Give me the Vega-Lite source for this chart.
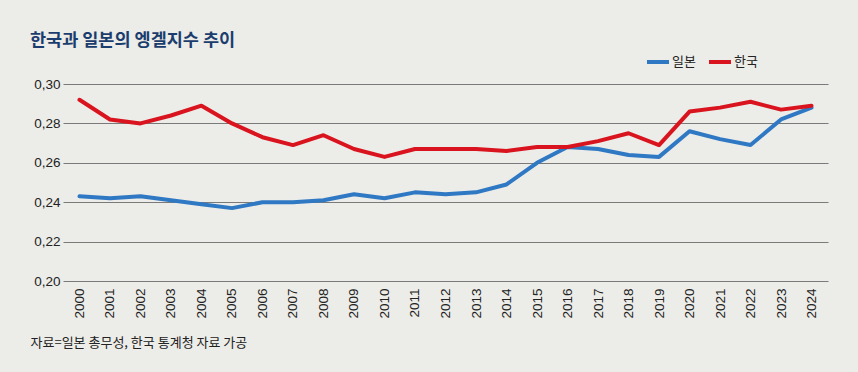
{
  "$schema": "https://vega.github.io/schema/vega-lite/v6.json",
  "autosize": "none",
  "width": 765,
  "height": 197,
  "padding": {"left": 63, "top": 84, "right": 30, "bottom": 91},
  "background": "#ECECE8",
  "title": {
    "text": "한국과 일본의 엥겔지수 추이",
    "anchor": "start",
    "frame": "group",
    "dx": -33,
    "offset": 0,
    "font": "Noto Sans CJK KR",
    "fontSize": 17.5,
    "fontWeight": "bold",
    "color": "#1B3D6E"
  },
  "config": {
    "view": {"stroke": null},
    "font": "Liberation Sans"
  },
  "data": {
    "values": [
      {"year": "2000", "country": "일본", "value": 0.243},
      {"year": "2001", "country": "일본", "value": 0.242},
      {"year": "2002", "country": "일본", "value": 0.243},
      {"year": "2003", "country": "일본", "value": 0.241},
      {"year": "2004", "country": "일본", "value": 0.239},
      {"year": "2005", "country": "일본", "value": 0.237},
      {"year": "2006", "country": "일본", "value": 0.240},
      {"year": "2007", "country": "일본", "value": 0.240},
      {"year": "2008", "country": "일본", "value": 0.241},
      {"year": "2009", "country": "일본", "value": 0.244},
      {"year": "2010", "country": "일본", "value": 0.242},
      {"year": "2011", "country": "일본", "value": 0.245},
      {"year": "2012", "country": "일본", "value": 0.244},
      {"year": "2013", "country": "일본", "value": 0.245},
      {"year": "2014", "country": "일본", "value": 0.249},
      {"year": "2015", "country": "일본", "value": 0.260},
      {"year": "2016", "country": "일본", "value": 0.268},
      {"year": "2017", "country": "일본", "value": 0.267},
      {"year": "2018", "country": "일본", "value": 0.264},
      {"year": "2019", "country": "일본", "value": 0.263},
      {"year": "2020", "country": "일본", "value": 0.276},
      {"year": "2021", "country": "일본", "value": 0.272},
      {"year": "2022", "country": "일본", "value": 0.269},
      {"year": "2023", "country": "일본", "value": 0.282},
      {"year": "2024", "country": "일본", "value": 0.288},
      {"year": "2000", "country": "한국", "value": 0.292},
      {"year": "2001", "country": "한국", "value": 0.282},
      {"year": "2002", "country": "한국", "value": 0.280},
      {"year": "2003", "country": "한국", "value": 0.284},
      {"year": "2004", "country": "한국", "value": 0.289},
      {"year": "2005", "country": "한국", "value": 0.280},
      {"year": "2006", "country": "한국", "value": 0.273},
      {"year": "2007", "country": "한국", "value": 0.269},
      {"year": "2008", "country": "한국", "value": 0.274},
      {"year": "2009", "country": "한국", "value": 0.267},
      {"year": "2010", "country": "한국", "value": 0.263},
      {"year": "2011", "country": "한국", "value": 0.267},
      {"year": "2012", "country": "한국", "value": 0.267},
      {"year": "2013", "country": "한국", "value": 0.267},
      {"year": "2014", "country": "한국", "value": 0.266},
      {"year": "2015", "country": "한국", "value": 0.268},
      {"year": "2016", "country": "한국", "value": 0.268},
      {"year": "2017", "country": "한국", "value": 0.271},
      {"year": "2018", "country": "한국", "value": 0.275},
      {"year": "2019", "country": "한국", "value": 0.269},
      {"year": "2020", "country": "한국", "value": 0.286},
      {"year": "2021", "country": "한국", "value": 0.288},
      {"year": "2022", "country": "한국", "value": 0.291},
      {"year": "2023", "country": "한국", "value": 0.287},
      {"year": "2024", "country": "한국", "value": 0.289}
    ]
  },
  "mark": {"type": "line", "strokeWidth": 4, "strokeJoin": "round", "strokeCap": "round"},
  "encoding": {
    "x": {
      "field": "year",
      "type": "ordinal",
      "scale": {"type": "point", "padding": 0.54},
      "axis": {
        "title": "자료=일본 총무성, 한국 통계청 자료 가공",
        "titleFont": "Noto Sans CJK KR",
        "titleFontSize": 13,
        "titleFontWeight": "normal",
        "titleColor": "#222222",
        "titleAnchor": "start",
        "titleAlign": "left",
        "titleBaseline": "middle",
        "titleX": -33,
        "titleY": 61,
        "labelAngle": -90,
        "labelAlign": "right",
        "labelBaseline": "middle",
        "labelPadding": 7,
        "labelFontSize": 13.5,
        "labelColor": "#222222",
        "ticks": false,
        "domain": false,
        "grid": false
      }
    },
    "y": {
      "field": "value",
      "type": "quantitative",
      "scale": {"domain": [0.2, 0.3], "nice": false, "zero": false},
      "axis": {
        "title": null,
        "values": [0.2, 0.22, 0.24, 0.26, 0.28, 0.3],
        "labelExpr": "replace(format(datum.value, '.2f'), '.', ',')",
        "labelFontSize": 13.5,
        "labelColor": "#222222",
        "labelPadding": 3,
        "ticks": false,
        "domain": false,
        "grid": true,
        "gridColor": "#7A7A7A",
        "gridWidth": 1.2
      }
    },
    "color": {
      "field": "country",
      "type": "nominal",
      "scale": {"domain": ["일본", "한국"], "range": ["#2F78C4", "#D9141E"]},
      "legend": {
        "title": null,
        "orient": "none",
        "direction": "horizontal",
        "legendX": 582,
        "legendY": -35,
        "symbolType": "stroke",
        "symbolStrokeWidth": 4,
        "symbolSize": 484,
        "labelFont": "Noto Sans CJK KR",
        "labelFontSize": 13,
        "labelColor": "#222222",
        "labelOffset": 1,
        "columnPadding": 5
      }
    }
  }
}
